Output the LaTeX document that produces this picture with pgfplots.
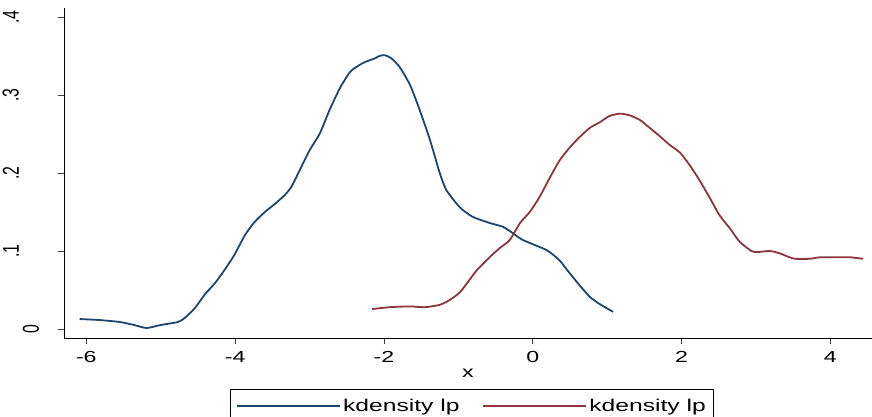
\documentclass[border=0pt]{standalone}
\usepackage{fontspec}
\usepackage{pgfplots}
\pgfplotsset{compat=1.18}
\setmainfont{Liberation Sans}
\newfontfamily\xfont{Liberation Sans}[FakeStretch=1.45]
\newfontfamily\yfont{Liberation Sans}[FakeStretch=0.69]
\definecolor{stblue}{RGB}{26,71,111}
\definecolor{stred}{RGB}{144,53,59}
\definecolor{axgray}{RGB}{60,60,60}
\begin{document}
\begin{tikzpicture}
\begin{axis}[
  at={(0,0)}, anchor=south west,
  scale only axis, width=808pt, height=330pt,
  xmin=-6.30, xmax=4.56, ymin=-0.0115, ymax=0.4115,
  axis x line*=bottom, axis y line*=left,
  axis line style={-, line width=0.8pt, black},
  xtick={-6,-4,-2,0,2,4}, xticklabels={-6,-4,-2,0,2,4},
  ytick={0,0.1,0.2,0.3,0.4},
  yticklabels={{\raisebox{-20pt}[12pt][0pt]{0}},.1,.2,.3,.4},
  tick align=outside, major tick length=6pt,
  tick style={line width=0.8pt, axgray},
  xticklabel style={font=\xfont\fontsize{16}{16}\selectfont, anchor=north, inner sep=0pt, yshift=-7pt},
  yticklabel style={font=\yfont\fontsize{23}{23}\selectfont, rotate=90, anchor=south, inner sep=0pt, yshift=39pt},
  xlabel={x},
  xlabel style={font=\xfont\fontsize{16}{16}\selectfont, at={(axis description cs:0.5,0)}, anchor=base, yshift=-39pt, inner sep=0pt},
  legend columns=2,
  legend style={at={(axis description cs:0.505,0)}, anchor=north, yshift=-51pt,
    draw=black, line width=0.8pt, font=\xfont\fontsize{17}{17}\selectfont,
    inner xsep=6pt, inner ysep=8pt,
    /tikz/every even column/.append style={column sep=21pt}},
  legend image code/.code={\draw[#1, line width=1.5pt] (0pt,0pt) -- (88pt,0pt); \path (0pt,0pt) -- (103pt,0pt);},
]
\addplot[stblue, line width=1.8pt, smooth, tension=0.4] coordinates {
(-6.09,0.0128) (-5.82,0.0115) (-5.55,0.009) (-5.35,0.005) (-5.19,0.0013) (-5.01,0.005)
(-4.77,0.009) (-4.68,0.014) (-4.54,0.027) (-4.41,0.044) (-4.27,0.059) (-4.14,0.076)
(-4.01,0.095) (-3.87,0.12) (-3.74,0.137) (-3.60,0.15) (-3.47,0.16) (-3.33,0.172)
(-3.24,0.183) (-3.13,0.204) (-3.0,0.229) (-2.86,0.251) (-2.73,0.281) (-2.59,0.309)
(-2.46,0.329) (-2.37,0.336) (-2.26,0.342) (-2.12,0.347) (-2.06,0.35) (-1.99,0.351)
(-1.90,0.347) (-1.79,0.336) (-1.65,0.313) (-1.52,0.281) (-1.38,0.242) (-1.25,0.200)
(-1.16,0.178) (-0.98,0.156) (-0.81,0.144) (-0.58,0.136) (-0.40,0.131) (-0.27,0.123)
(-0.13,0.114) (0.19,0.101) (0.36,0.088) (0.46,0.076) (0.63,0.056) (0.77,0.041)
(0.90,0.032) (1.08,0.022)
};
\addlegendentry{kdensity lp}
\addplot[stred, line width=1.8pt, smooth, tension=0.4] coordinates {
(-2.16,0.0256) (-1.92,0.028) (-1.65,0.029) (-1.45,0.028) (-1.25,0.031) (-1.12,0.037)
(-0.98,0.047) (-0.85,0.063) (-0.75,0.0756) (-0.58,0.092) (-0.44,0.104) (-0.31,0.114)
(-0.17,0.136) (-0.04,0.150) (0.09,0.169) (0.23,0.194) (0.36,0.216) (0.50,0.233)
(0.63,0.246) (0.77,0.258) (0.90,0.265) (1.03,0.273) (1.17,0.276) (1.30,0.274)
(1.44,0.268) (1.57,0.258) (1.71,0.247) (1.84,0.236) (1.98,0.226) (2.11,0.21)
(2.24,0.191) (2.38,0.168) (2.51,0.146) (2.65,0.129) (2.78,0.112) (2.94,0.1)
(3.02,0.0987) (3.19,0.1) (3.32,0.097) (3.45,0.092) (3.53,0.09) (3.72,0.09)
(3.86,0.092) (4.06,0.092) (4.26,0.092) (4.44,0.09)
};
\addlegendentry{kdensity lp}
\end{axis}
\pgfresetboundingbox
\useasboundingbox (-64pt,-79pt) rectangle (808pt,338pt);
\end{tikzpicture}
\end{document}
